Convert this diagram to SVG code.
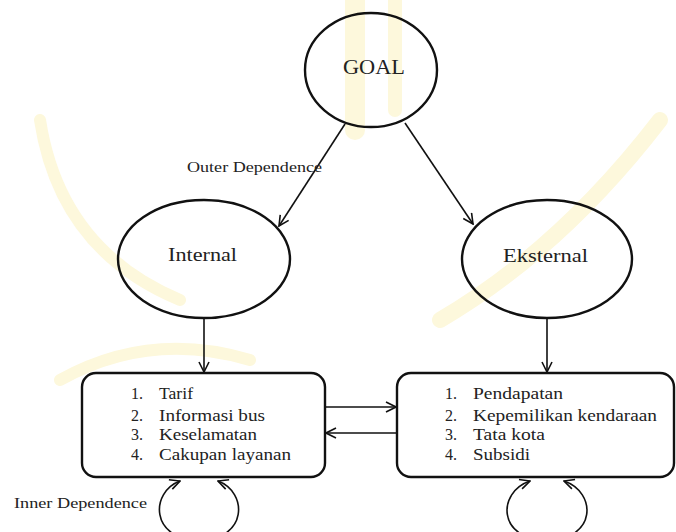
<svg xmlns="http://www.w3.org/2000/svg" width="676" height="532" viewBox="0 0 676 532">
<style>
.node{fill:none;stroke:#111;stroke-width:2.4}
.edge{fill:none;stroke:#111;stroke-width:1.6}
.lbl{font-family:"Liberation Serif","Times New Roman",serif;fill:#222}
.goal{font-size:21px}
.big{font-size:19px}
.item{font-size:16px}
.small{font-size:15px}
.wm{fill:none;stroke:#fdf8dc;stroke-linecap:round}
</style>
<defs>
<marker id="arr" viewBox="0 0 12 12" refX="11" refY="6" markerWidth="12" markerHeight="12" markerUnits="userSpaceOnUse" orient="auto-start-reverse">
<path d="M1,1 L11,6 L1,11" fill="none" stroke="#111" stroke-width="1.6"/>
</marker>
</defs>
<rect width="676" height="532" fill="#fff"/>
<g id="watermark">
<path class="wm" stroke-width="20" d="M355,0 L355,130"/>
<path class="wm" stroke-width="14" d="M395,0 L395,110"/>
<path class="wm" stroke-width="16" d="M440,320 Q560,250 660,120"/>
<path class="wm" stroke-width="12" d="M40,120 Q60,250 180,300"/>
<path class="wm" stroke-width="12" d="M60,380 Q150,330 250,360"/>
</g>
<g id="connectors">
<line class="edge" x1="345" y1="124" x2="279" y2="226" marker-end="url(#arr)"/>
<line class="edge" x1="405" y1="123" x2="473" y2="224" marker-end="url(#arr)"/>
<line class="edge" x1="204" y1="318" x2="204" y2="372" marker-end="url(#arr)"/>
<line class="edge" x1="547" y1="318" x2="547" y2="372" marker-end="url(#arr)"/>
<line class="edge" x1="326" y1="407" x2="396" y2="407" marker-end="url(#arr)"/>
<line class="edge" x1="396" y1="433" x2="326" y2="433" marker-end="url(#arr)"/>
<path class="edge" d="M180,481 C150,492 150,540 199,540 C248,540 248,492 218,481" marker-start="url(#arr)" marker-end="url(#arr)"/>
<path class="edge" d="M530,481 C497,492 497,540 547,540 C597,540 597,492 564,481" marker-start="url(#arr)" marker-end="url(#arr)"/>
<text class="lbl small" x="187" y="172" textLength="135" lengthAdjust="spacingAndGlyphs">Outer Dependence</text>
<text class="lbl small" x="14" y="508" textLength="133" lengthAdjust="spacingAndGlyphs">Inner Dependence</text>
</g>
<g id="goal">
<ellipse class="node" cx="371" cy="70" rx="66" ry="57"/>
<text class="lbl goal" x="343" y="74" textLength="62" lengthAdjust="spacingAndGlyphs">GOAL</text>
</g>
<g id="internal">
<ellipse class="node" cx="204" cy="259" rx="86" ry="59"/>
<text class="lbl big" x="168" y="261" textLength="69" lengthAdjust="spacingAndGlyphs">Internal</text>
</g>
<g id="eksternal">
<ellipse class="node" cx="547" cy="259" rx="85" ry="59"/>
<text class="lbl big" x="503" y="262" textLength="85" lengthAdjust="spacingAndGlyphs">Eksternal</text>
</g>
<g id="internal-criteria">
<rect class="node" x="82" y="373" width="243" height="104" rx="14"/>
<text class="lbl item" x="131" y="399">1.</text><text class="lbl item" x="159" y="399" textLength="34" lengthAdjust="spacingAndGlyphs">Tarif</text>
<text class="lbl item" x="131" y="421">2.</text><text class="lbl item" x="159" y="421" textLength="106" lengthAdjust="spacingAndGlyphs">Informasi bus</text>
<text class="lbl item" x="131" y="440">3.</text><text class="lbl item" x="159" y="440" textLength="98" lengthAdjust="spacingAndGlyphs">Keselamatan</text>
<text class="lbl item" x="131" y="460">4.</text><text class="lbl item" x="159" y="460" textLength="132" lengthAdjust="spacingAndGlyphs">Cakupan layanan</text>
</g>
<g id="eksternal-criteria">
<rect class="node" x="397" y="373" width="277" height="104" rx="14"/>
<text class="lbl item" x="445" y="399">1.</text><text class="lbl item" x="473" y="399" textLength="90" lengthAdjust="spacingAndGlyphs">Pendapatan</text>
<text class="lbl item" x="445" y="421">2.</text><text class="lbl item" x="473" y="421" textLength="184" lengthAdjust="spacingAndGlyphs">Kepemilikan kendaraan</text>
<text class="lbl item" x="445" y="440">3.</text><text class="lbl item" x="473" y="440" textLength="72" lengthAdjust="spacingAndGlyphs">Tata kota</text>
<text class="lbl item" x="445" y="460">4.</text><text class="lbl item" x="473" y="460" textLength="57" lengthAdjust="spacingAndGlyphs">Subsidi</text>
</g>
</svg>
